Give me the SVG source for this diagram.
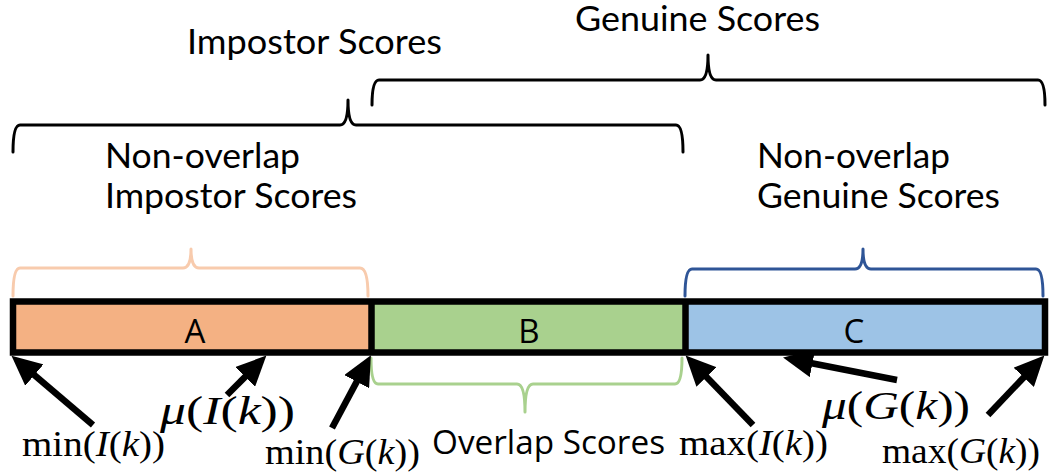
<svg xmlns="http://www.w3.org/2000/svg" width="1050" height="476" viewBox="0 0 1050 476">
<style>
.lbl{font-family:Lato,"Open Sans","Liberation Sans",sans-serif;font-size:34.5px;fill:#000}
.seg{font-family:"Open Sans","Liberation Sans",sans-serif;font-size:33px;fill:#000;text-anchor:middle}
.math{font-family:"Liberation Serif","Times New Roman",serif;fill:#000}
.it{font-style:italic}
.brace{fill:none;stroke-width:3;stroke-linejoin:round;stroke-linecap:round}
.arrow{stroke:#000;stroke-width:6.5;fill:none;marker-end:url(#ah)}
</style>
<defs>
<marker id="ah" markerUnits="userSpaceOnUse" markerWidth="30" markerHeight="28" viewBox="0 0 30 28" refX="2" refY="14" orient="auto">
<path d="M0,0 L30,14 L0,28 z" fill="#000"/>
</marker>
</defs>
<rect width="1050" height="476" fill="#fff"/>

<g id="genuine-scores">
<path class="brace" stroke="#000" d="M372,105 Q372,80 379,80 L700,80 Q708,80 708,55 Q708,80 716,80 L1038,80 Q1045,80 1045,105"/>
<text class="lbl" x="575" y="31" textLength="245" lengthAdjust="spacingAndGlyphs">Genuine Scores</text>
</g>

<g id="impostor-scores">
<path class="brace" stroke="#000" d="M13,152 Q13,125 20,125 L340,125 Q348,125 348,100 Q348,125 356,125 L676,125 Q683,125 683,152"/>
<text class="lbl" x="187" y="54" textLength="255" lengthAdjust="spacingAndGlyphs">Impostor Scores</text>
</g>

<g id="nonoverlap-impostor">
<text class="lbl" x="105" y="168" textLength="195" lengthAdjust="spacingAndGlyphs">Non-overlap</text>
<text class="lbl" x="105" y="208" textLength="252" lengthAdjust="spacingAndGlyphs">Impostor Scores</text>
<path class="brace" stroke="#f8cbad" stroke-width="2.5" d="M13,296 Q13,268 20,268 L183,268 Q191,268 191,249 Q191,268 199,268 L360,268 Q368,268 368,296"/>
</g>

<g id="nonoverlap-genuine">
<text class="lbl" x="757" y="168" textLength="193" lengthAdjust="spacingAndGlyphs">Non-overlap</text>
<text class="lbl" x="757" y="208" textLength="243" lengthAdjust="spacingAndGlyphs">Genuine Scores</text>
<path class="brace" stroke="#2f5597" stroke-width="2.5" d="M685,296 Q685,269 692,269 L855,269 Q863,269 863,249 Q863,269 871,269 L1036,269 Q1043,269 1043,296"/>
</g>

<g id="overlap-scores">
<path class="brace" stroke="#a9d18e" stroke-width="2.5" d="M371,358 Q371,384 378,384 L517,384 Q525,384 525,412 Q525,384 533,384 L675,384 Q682,384 682,358"/>
<text x="432" y="454" font-family="'Open Sans','Liberation Sans',sans-serif" font-size="32" textLength="233" lengthAdjust="spacingAndGlyphs">Overlap Scores</text>
</g>

<g id="bar">
<rect x="13" y="301.5" width="358" height="51" fill="#f4b183"/>
<rect x="371" y="301.5" width="314" height="51" fill="#a9d18e"/>
<rect x="685" y="301.5" width="360" height="51" fill="#9dc3e6"/>
<rect x="13" y="301.5" width="1032" height="51" fill="none" stroke="#000" stroke-width="6.5"/>
<line x1="371.5" y1="301.5" x2="371.5" y2="352.5" stroke="#000" stroke-width="6.5"/>
<line x1="685.5" y1="301.5" x2="685.5" y2="352.5" stroke="#000" stroke-width="6.5"/>
</g>
<g id="segment-A"><text class="seg" x="195" y="343">A</text></g>
<g id="segment-B"><text class="seg" x="529" y="343">B</text></g>
<g id="segment-C"><text class="seg" x="854" y="343">C</text></g>

<g id="connectors">
<line class="arrow" x1="93" y1="425" x2="32.8" y2="373.8"/>
<line class="arrow" x1="227" y1="395" x2="246.6" y2="375.4"/>
<line class="arrow" x1="332" y1="428" x2="357.7" y2="379.9"/>
<line class="arrow" x1="753" y1="425" x2="705.1" y2="375.6"/>
<line class="arrow" x1="897" y1="380" x2="810.5" y2="363"/>
<line class="arrow" x1="988" y1="415" x2="1025.1" y2="375.9"/>
</g>

<g id="label-min-I">
<text class="math" x="22" y="456" font-size="35" textLength="143" lengthAdjust="spacingAndGlyphs">min(<tspan class="it">I</tspan>(<tspan class="it">k</tspan>))</text>
</g>
<g id="label-mu-I">
<text class="math" x="160" y="424" font-size="39" textLength="135" lengthAdjust="spacingAndGlyphs"><tspan class="it">μ</tspan>(<tspan class="it">I</tspan>(<tspan class="it">k</tspan>))</text>
</g>
<g id="label-min-G">
<text class="math" x="265" y="464" font-size="35" textLength="155" lengthAdjust="spacingAndGlyphs">min(<tspan class="it">G</tspan>(<tspan class="it">k</tspan>))</text>
</g>
<g id="label-max-I">
<text class="math" x="679" y="455" font-size="35" textLength="149" lengthAdjust="spacingAndGlyphs">max(<tspan class="it">I</tspan>(<tspan class="it">k</tspan>))</text>
</g>
<g id="label-mu-G">
<text class="math" x="822" y="419" font-size="40" textLength="148" lengthAdjust="spacingAndGlyphs"><tspan class="it">μ</tspan>(<tspan class="it">G</tspan>(<tspan class="it">k</tspan>))</text>
</g>
<g id="label-max-G">
<text class="math" x="882" y="463" font-size="35" textLength="158" lengthAdjust="spacingAndGlyphs">max(<tspan class="it">G</tspan>(<tspan class="it">k</tspan>))</text>
</g>
</svg>
